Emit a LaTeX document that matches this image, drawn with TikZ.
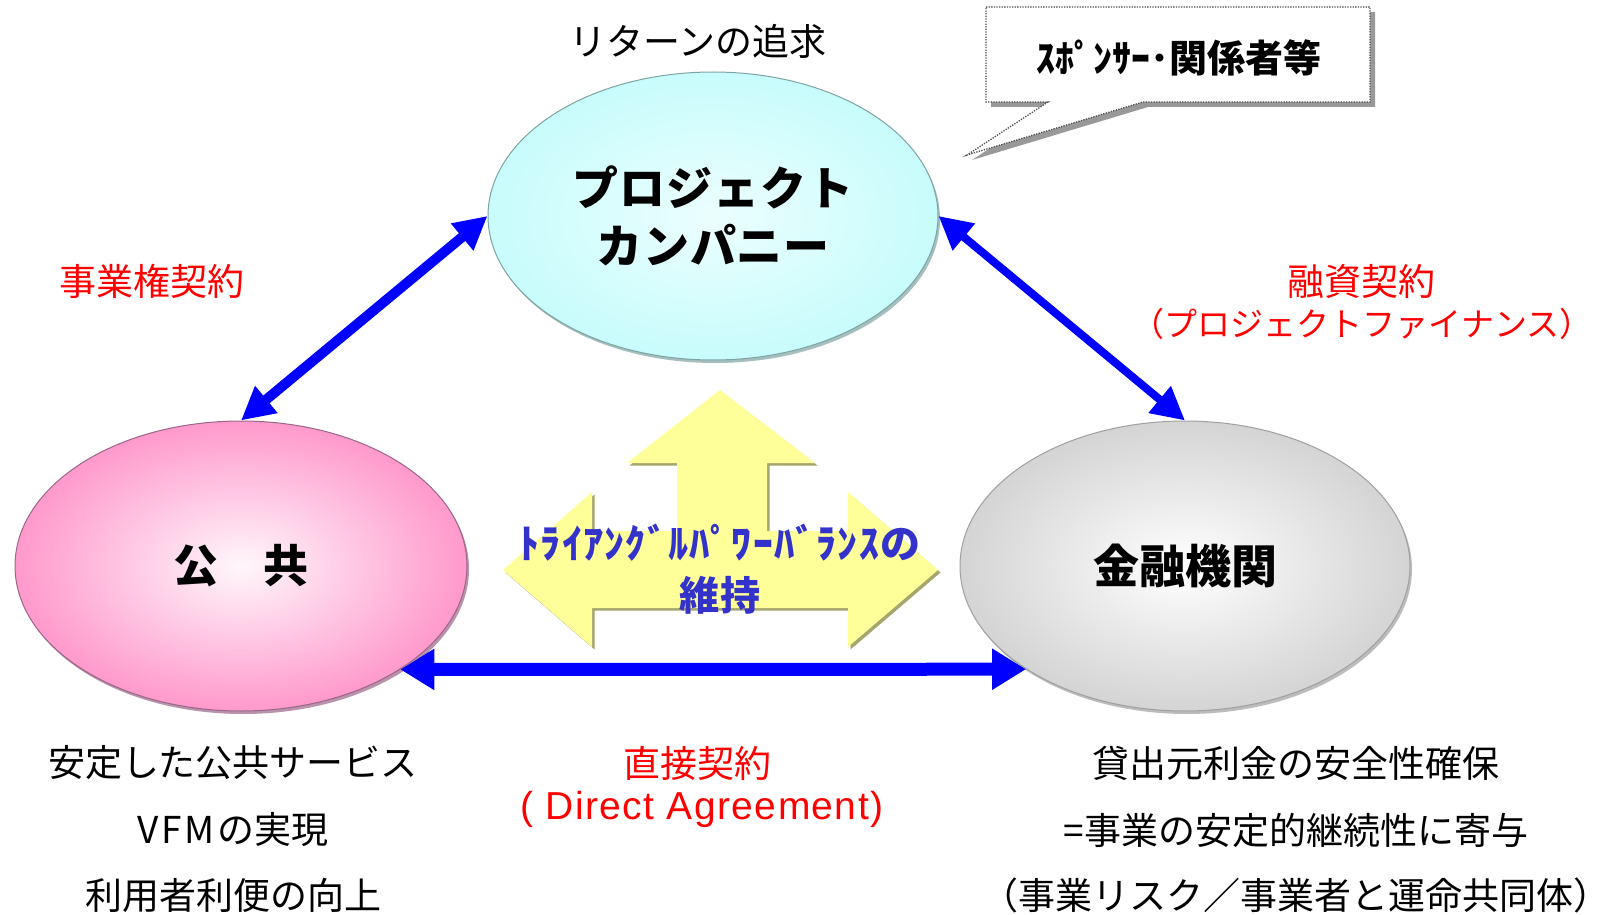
\documentclass[tikz,border=0pt]{standalone}
\usepackage{fontspec}
\setmainfont{Noto Sans CJK JP}
\newfontfamily\agfont{Liberation Sans}[LetterSpace=3.6]
\newfontfamily\tpbfont{Noto Sans CJK JP}[LetterSpace=3]
\newfontfamily\pcfont{Noto Sans CJK JP}[LetterSpace=2]
\usetikzlibrary{shapes.geometric,arrows.meta,shadows}
\definecolor{pcfill}{HTML}{C8FCFC}
\definecolor{pcedge}{HTML}{7FA3A3}
\definecolor{pubfill}{HTML}{FF99CC}
\definecolor{pubedge}{HTML}{9A6688}
\definecolor{finfill}{HTML}{D4D4D4}
\definecolor{finedge}{HTML}{A0A0A0}
\definecolor{arrblue}{HTML}{0000FF}
\definecolor{yel}{HTML}{FFFF99}
\definecolor{yelshadow}{HTML}{A5A56E}
\definecolor{tpbtext}{HTML}{3333CC}
\definecolor{lblred}{HTML}{FF0000}
\tikzset{
  ell/.style={ellipse, inner sep=0pt, align=center, line width=1pt},
  t37/.style={font=\fontsize{37pt}{44pt}\selectfont, inner sep=0pt, anchor=center},
  redlbl/.style={t37, text=lblred},
  conn/.style={draw=arrblue, line width=10pt, {Triangle[length=33pt,width=33pt]}-{Triangle[length=33pt,width=33pt]}},
  connh/.style={draw=arrblue, line width=13pt, {Triangle[length=34pt,width=39pt]}-{Triangle[length=34pt,width=39pt]}},
  boldbig/.style={font=\pcfont\bfseries\fontsize{46pt}{58pt}\selectfont},
}
\begin{document}
\begin{tikzpicture}[x=1pt,y=-1pt]
\useasboundingbox (0,0) rectangle (1610,915);
\fill[white] (0,0) rectangle (1610,915);

% central yellow triple arrow
\fill[yelshadow, shift={(2.5,2.5)}] (720,390) -- (815,463) -- (767,463) -- (767,531) -- (848,531) -- (848,492) -- (938,570) -- (848,647) -- (848,608) -- (592,608) -- (592,647) -- (503,570) -- (592,492) -- (592,531) -- (677,531) -- (677,463) -- (627,463) -- cycle;
\fill[yel] (720,390) -- (815,463) -- (767,463) -- (767,531) -- (848,531) -- (848,492) -- (938,570) -- (848,647) -- (848,608) -- (592,608) -- (592,647) -- (503,570) -- (592,492) -- (592,531) -- (677,531) -- (677,463) -- (627,463) -- cycle;

% ellipses
\node[ell, boldbig, minimum width=450pt, minimum height=288pt, draw=pcedge,
      inner color=pcfill!35!white, outer color=pcfill,
      drop shadow={shadow xshift=2pt, shadow yshift=-3pt, fill=pcedge, opacity=0.7}] (pc) at (713,216) {プロジェクト\\カンパニー};
\node[ell, font=\bfseries\fontsize{45pt}{54pt}\selectfont, minimum width=452pt, minimum height=290pt, draw=pubedge,
      inner color=pubfill!8!white, outer color=pubfill,
      drop shadow={shadow xshift=2pt, shadow yshift=-3pt, fill=pubedge, opacity=0.7}] (pub) at (241,566) {公　共};
\node[ell, font=\bfseries\fontsize{46pt}{54pt}\selectfont, minimum width=450pt, minimum height=290pt, draw=finedge,
      inner color=white, outer color=finfill,
      drop shadow={shadow xshift=2pt, shadow yshift=-3pt, fill=finedge, opacity=0.7}] (fin) at (1185,566) {金融機関};

% blue connectors
\draw[conn] (pub.north) -- (pc.west);
\draw[conn, line width=8pt] (pc.east) -- (fin.north);
\draw[connh] (pub.-33) -- (fin.213.4);

% callout
\fill[gray!80, shift={(5,5)}] (986,7) -- (1370,7) -- (1370,102) -- (1143,102) -- (967,155) -- (1048,102) -- (986,102) -- cycle;
\draw[fill=white, draw=gray!60!black, line width=1.3pt, dash pattern=on 1.3pt off 1.3pt] (986,7) -- (1370,7) -- (1370,102) -- (1143,102) -- (967,155) -- (1048,102) -- (986,102) -- cycle;
\node[font=\bfseries\fontsize{38pt}{44pt}\selectfont, inner sep=0pt] (sp) at (1179,58) {ｽﾎﾟﾝｻｰ･関係者等};

% centre text
\node[font=\tpbfont\bfseries\fontsize{40pt}{52pt}\selectfont, text=tpbtext, align=center, inner sep=0pt] (tpb) at (720,569) {ﾄﾗｲｱﾝｸﾞﾙﾊﾟﾜｰﾊﾞﾗﾝｽの\\維持};

% labels
\node[t37] (ret) at (698,41) {リターンの追求};
\node[redlbl] (jg) at (152,281) {事業権契約};
\node[redlbl] (ys) at (1361,281) {融資契約};
\node[redlbl, font=\fontsize{33pt}{40pt}\selectfont] (pf) at (1362,324) {（プロジェクトファイナンス）};
\node[redlbl] (cc) at (697,763) {直接契約};
\node[redlbl, font=\agfont\fontsize{39pt}{46pt}\selectfont] (da) at (702,809) {( Direct Agreement)};

\node[t37] (l1) at (233,763) {安定した公共サービス};
\node[t37] (l2) at (233,830) {V\kern3pt F\kern3pt M\kern3pt の実現};
\node[t37] (l3) at (233,895) {利用者利便の向上};
\node[t37] (r1) at (1296,763) {貸出元利金の安全性確保};
\node[t37] (r2) at (1296,830) {=事業の安定的継続性に寄与};
\node[t37] (r3) at (1296,895) {（事業リスク／事業者と運命共同体）};
\end{tikzpicture}
\end{document}
